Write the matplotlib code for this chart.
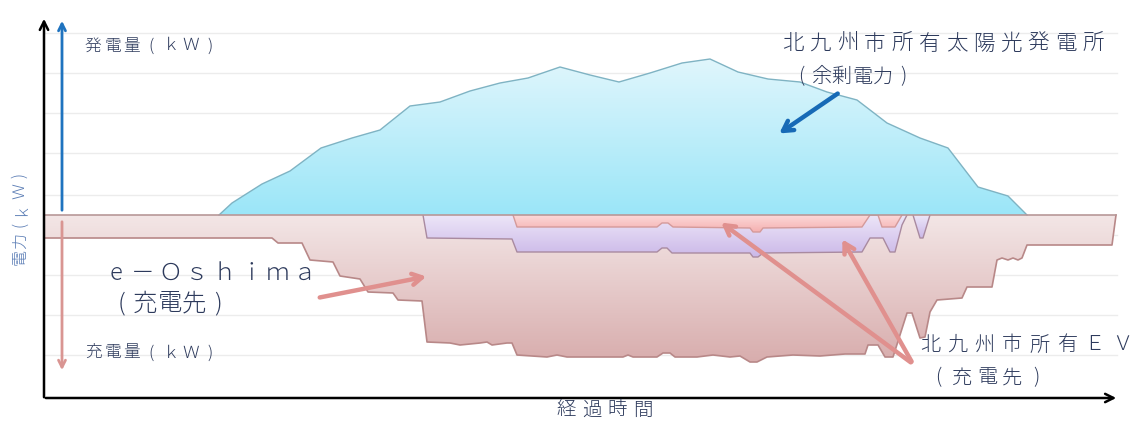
import numpy as np
import matplotlib
matplotlib.use("Agg")
import matplotlib.pyplot as plt
from matplotlib.colors import LinearSegmentedColormap
from matplotlib.patches import Polygon

plt.rcParams['font.family'] = ['Noto Sans CJK JP', 'DejaVu Sans']

# ---- data (time axis in arbitrary steps, power in kW) ----
solar_t = [219, 232, 262, 290, 321, 352, 380, 410, 440, 470, 500, 528, 560, 590, 619,
           650, 682, 710, 738, 768, 800, 827, 857, 887, 920, 948, 978, 1008, 1027]
solar_kw = [0, 3.0, 7.75, 11.0, 16.75, 19.25, 21.25, 27.25, 28.25, 31.0, 33.0, 34.25, 37.0, 35.0, 33.25,
            35.5, 38.0, 39.0, 35.75, 34.0, 33.25, 30.75, 28.75, 23.0, 19.25, 16.75, 7.0, 4.75, 0]

eo_t = [44, 272, 278, 302, 310, 333, 340, 360, 368, 393,
        398, 422, 427, 450, 460, 470, 480, 487, 492, 507,
        512, 517, 547, 557, 567, 623, 628, 633, 657, 663,
        670, 675, 697, 713, 730, 740, 750, 757, 767, 793,
        820, 845, 865, 868, 878, 885, 893, 907, 912, 920,
        925, 930, 937, 962, 967, 992, 997, 1002, 1008, 1013,
        1018, 1022, 1027, 1112, 1116]
eo_kw = [-5.75, -5.75, -7, -7, -11.25, -11.75, -15.25, -16, -19.25, -19.5,
         -21.25, -21.5, -31.75, -32, -32.5, -32.25, -32, -31.75, -32.5, -32,
         -32, -35, -35.5, -35, -35.5, -35.5, -35, -35.5, -35.5, -34.5,
         -34.5, -35.5, -35.5, -35, -35.5, -35.25, -36.75, -36.75, -35.5, -35,
         -35.25, -34.75, -34.75, -32.5, -32.5, -35.5, -35.5, -24.5, -24.5, -30.75,
         -30.5, -24.25, -21.25, -20.75, -18, -18, -11.25, -10.75, -11.25, -10.75,
         -11.25, -10.75, -7.5, -7.5, 0]

ev1_t = [423, 427, 512, 517, 657, 662, 667, 672, 750, 753, 758, 763, 862, 870, 883, 890, 895, 902, 907]
ev1_kw = [0, -5.75, -6, -9.25, -9.25, -8.25, -8.25, -9.5, -9.5, -10.5, -10.5, -9.5, -9.25, -5.75, -5.75,
          -9.25, -9.25, -2.5, 0]
ev1b_t = [913, 920, 923, 930]
ev1b_kw = [0, -5.75, -5.75, 0]

ev2_t = [513, 517, 657, 662, 668, 673, 750, 753, 760, 763, 862, 870, 878, 882, 895, 902]
ev2_kw = [0, -3, -3, -2, -2, -3, -3.25, -4.25, -4.25, -3.25, -3, 0, 0, -3, -3, 0]

grid_kw = [45.5, 35.5, 25.5, 15.5, 5, -5, -15, -25, -35]

NAVY = '#2d3a5c'

fig = plt.figure(figsize=(11.34, 4.21), dpi=100)
ax = fig.add_axes([0, 0, 1, 1])
ax.set_axis_off()

def pix(p):
    return (215 - p) / 4.0

T0, T1 = 44, 1117

for g in grid_kw:
    ax.plot([T0, T1], [g, g], color='#ececec', lw=1.0, zorder=1)

def grad_region(t, v, c_top, c_bot, edge, z, lw=1.0):
    verts = list(zip(t, v))
    poly = Polygon(verts, closed=True, facecolor='none', edgecolor='none')
    ax.add_patch(poly)
    ymin, ymax = min(v + [0]), max(v + [0])
    cmap = LinearSegmentedColormap.from_list('g', [c_bot, c_top])
    grad = np.linspace(0, 1, 256).reshape(-1, 1)
    im = ax.imshow(grad, extent=[min(t), max(t), ymin, ymax], origin='lower',
                   cmap=cmap, aspect='auto', zorder=z, interpolation='bicubic')
    im.set_clip_path(poly)
    ax.plot(t, v, color=edge, lw=lw, zorder=z + 0.1, solid_joinstyle='round')

# e-Oshima charging (outer)
grad_region([eo_t[0]] + eo_t, [0] + eo_kw, '#f3e6e6', '#d8adad', '#b88888', 2, lw=1.2)
ax.plot([eo_t[0], eo_t[0]], [0, eo_kw[0]], color='#b88888', lw=1.2, zorder=2.1)
# EV (purple)
grad_region(ev1_t, ev1_kw, '#ede6f8', '#cbb8e8', '#a98aa0', 3)
grad_region(ev1b_t, ev1b_kw, '#ede6f8', '#cbb8e8', '#a98aa0', 3)
# EV (salmon)
grad_region(ev2_t, ev2_kw, '#fcd9d9', '#f5b0b0', '#d49a9a', 4)
# Solar surplus
grad_region(solar_t, solar_kw, '#e0f6fc', '#9be6f8', '#7fb3c3', 5)

# baseline
ax.plot([eo_t[0], eo_t[-1]], [0, 0], color='#b89898', lw=1.2, zorder=6)

# axes arrows
ax.annotate('', xy=(1119, pix(398)), xytext=(T0 - 1, pix(398)),
            arrowprops=dict(arrowstyle='->,head_length=0.6,head_width=0.3', lw=1.8, color='black'), zorder=7)
ax.annotate('', xy=(T0, pix(16)), xytext=(T0, pix(400)),
            arrowprops=dict(arrowstyle='->,head_length=0.6,head_width=0.3', lw=1.8, color='black'), zorder=7)

# vertical guide arrows
ax.annotate('', xy=(62, pix(18)), xytext=(62, pix(213)),
            arrowprops=dict(arrowstyle='->,head_length=0.5,head_width=0.25', lw=2.0, color='#1f73bf'), zorder=7)
ax.annotate('', xy=(62, pix(373)), xytext=(62, pix(219)),
            arrowprops=dict(arrowstyle='->,head_length=0.5,head_width=0.25', lw=2.0, color='#d99592'), zorder=7)

# pointer arrows
ax.annotate('', xy=(777, pix(135)), xytext=(840, pix(92)),
            arrowprops=dict(arrowstyle='->,head_length=0.7,head_width=0.4', lw=3.2, color='#176ab6'), zorder=8)
ax.annotate('', xy=(429, pix(276)), xytext=(317, pix(298)),
            arrowprops=dict(arrowstyle='->,head_length=0.7,head_width=0.4', lw=3.2, color='#e0908e'), zorder=8)
ax.annotate('', xy=(719, pix(221)), xytext=(913, pix(364)),
            arrowprops=dict(arrowstyle='->,head_length=0.7,head_width=0.4', lw=3.2, color='#e0908e'), zorder=8)
ax.annotate('', xy=(841, pix(237)), xytext=(913, pix(364)),
            arrowprops=dict(arrowstyle='->,head_length=0.7,head_width=0.4', lw=3.2, color='#e0908e'), zorder=8)

def spaced(x0, ypix, s, pitch, size, color=NAVY, vertical=False):
    for i, ch in enumerate(s):
        if vertical:
            ax.text(x0, pix(ypix - i * pitch), ch, ha='center', va='center', fontsize=size,
                    color=color, rotation=90, zorder=9, fontweight='light')
        else:
            ax.text(x0 + i * pitch, pix(ypix), ch, ha='center', va='center', fontsize=size,
                    color=color, zorder=9, fontweight='light')

spaced(93, 46, '発電量(ｋＷ)', 19.5, 12)
spaced(93, 353, '充電量(ｋＷ)', 19.5, 12)
spaced(20, 257, '電力(ｋＷ)', 16.4, 11.5, color='#5b7db5', vertical=True)
spaced(116, 273, 'e－Ｏｓｈｉｍａ', 27, 17)
spaced(121, 304, '(充電先)', 24.3, 17.5)
spaced(793, 44, '北九州市所有太陽光発電所', 27.27, 15.5)
spaced(801, 77, '(余剰電力)', 20.4, 14.5)
spaced(930, 345, '北九州市所有ＥＶ', 27.4, 14.5)
spaced(938, 378, '(充電先)', 24.5, 14.5)
spaced(566, 410, '経過時間', 25.7, 14)

ax.set_xlim(0, 1134)
ax.set_ylim(pix(421), pix(0))
fig.savefig('out.png', dpi=100)
